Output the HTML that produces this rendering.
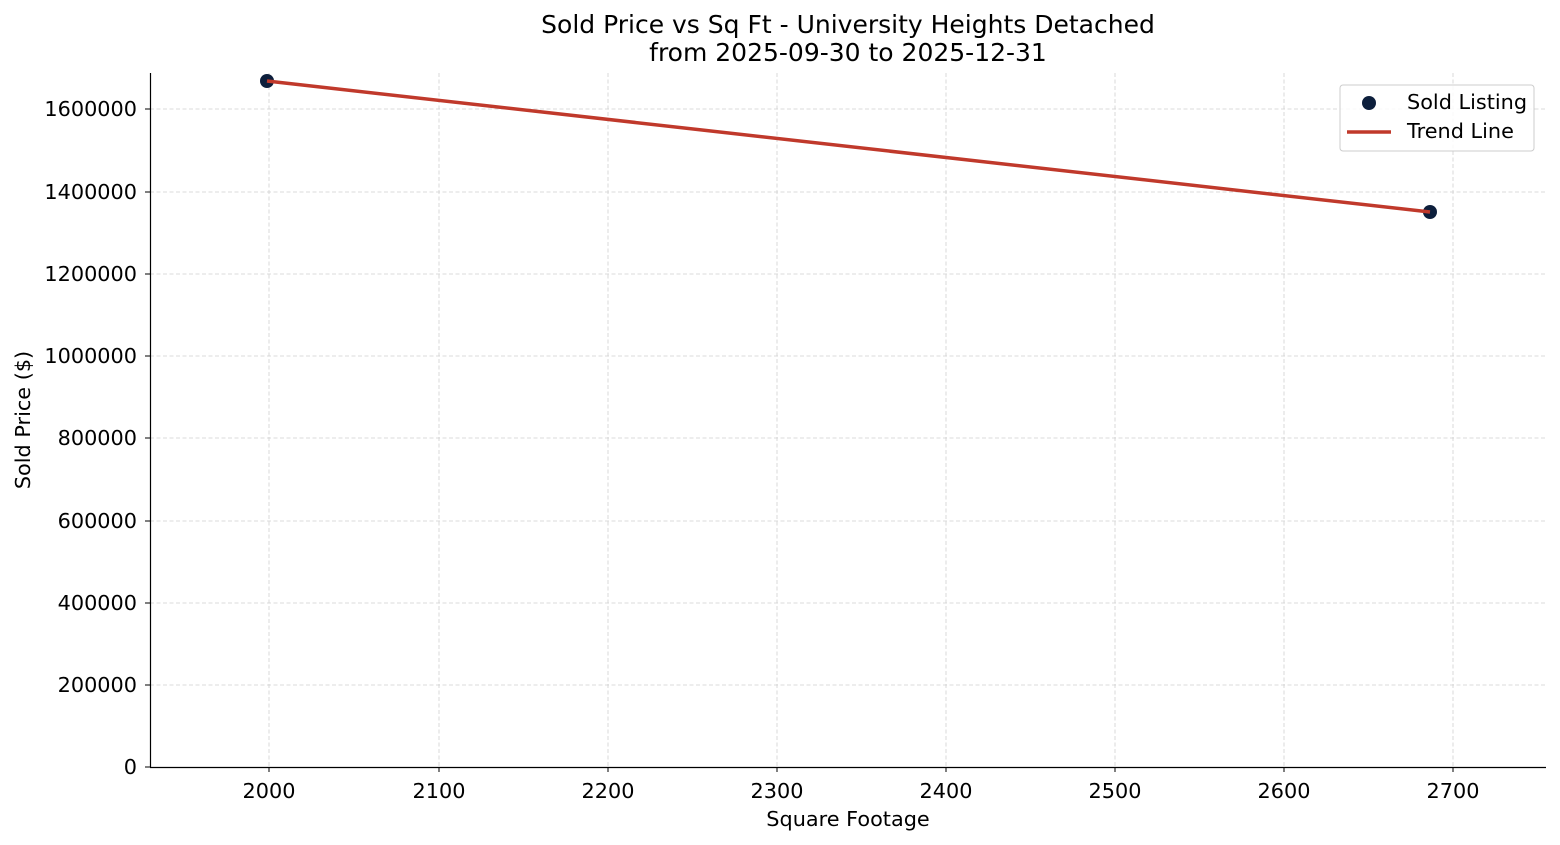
<!DOCTYPE html>
<html><head><meta charset="utf-8"><style>
html,body{margin:0;padding:0;background:#fff;}
svg{display:block;font-family:"DejaVu Sans","Liberation Sans",sans-serif;}
</style></head><body>
<svg width="1560" height="845" viewBox="0 0 1560 845" xmlns="http://www.w3.org/2000/svg">
<rect width="1560" height="845" fill="#fff"/>
<g stroke="#cfcfcf" stroke-width="0.8" stroke-dasharray="4,2.5">
<line x1="269" y1="73" x2="269" y2="767"/>
<line x1="439" y1="73" x2="439" y2="767"/>
<line x1="608" y1="73" x2="608" y2="767"/>
<line x1="777" y1="73" x2="777" y2="767"/>
<line x1="946" y1="73" x2="946" y2="767"/>
<line x1="1115" y1="73" x2="1115" y2="767"/>
<line x1="1284" y1="73" x2="1284" y2="767"/>
<line x1="1453" y1="73" x2="1453" y2="767"/>
<line x1="150" y1="685" x2="1546" y2="685"/>
<line x1="150" y1="603" x2="1546" y2="603"/>
<line x1="150" y1="521" x2="1546" y2="521"/>
<line x1="150" y1="438" x2="1546" y2="438"/>
<line x1="150" y1="356" x2="1546" y2="356"/>
<line x1="150" y1="274" x2="1546" y2="274"/>
<line x1="150" y1="192" x2="1546" y2="192"/>
<line x1="150" y1="109" x2="1546" y2="109"/>
</g>
<g stroke="#000" stroke-width="1.2">
<line x1="150.5" y1="73" x2="150.5" y2="767"/>
<line x1="150" y1="767.5" x2="1546" y2="767.5"/>
</g>
<g stroke="#000" stroke-width="1">
<line x1="269" y1="767" x2="269" y2="772"/><line x1="439" y1="767" x2="439" y2="772"/>
<line x1="608" y1="767" x2="608" y2="772"/><line x1="777" y1="767" x2="777" y2="772"/>
<line x1="946" y1="767" x2="946" y2="772"/><line x1="1115" y1="767" x2="1115" y2="772"/>
<line x1="1284" y1="767" x2="1284" y2="772"/><line x1="1453" y1="767" x2="1453" y2="772"/>
<line x1="145" y1="767" x2="150" y2="767"/><line x1="145" y1="685" x2="150" y2="685"/>
<line x1="145" y1="603" x2="150" y2="603"/><line x1="145" y1="521" x2="150" y2="521"/>
<line x1="145" y1="438" x2="150" y2="438"/><line x1="145" y1="356" x2="150" y2="356"/>
<line x1="145" y1="274" x2="150" y2="274"/><line x1="145" y1="192" x2="150" y2="192"/>
<line x1="145" y1="109" x2="150" y2="109"/>
</g>
<g font-size="20.8" fill="#000" text-anchor="middle">
<text x="269" y="798">2000</text><text x="439" y="798">2100</text><text x="608" y="798">2200</text>
<text x="777" y="798">2300</text><text x="946" y="798">2400</text><text x="1115" y="798">2500</text>
<text x="1284" y="798">2600</text><text x="1453" y="798">2700</text>
</g>
<g font-size="20.8" fill="#000" text-anchor="end">
<text x="137" y="774">0</text><text x="137" y="692">200000</text><text x="137" y="610">400000</text>
<text x="137" y="528">600000</text><text x="137" y="445">800000</text><text x="137" y="363">1000000</text>
<text x="137" y="281">1200000</text><text x="137" y="199">1400000</text><text x="137" y="116">1600000</text>
</g>
<text x="848" y="826" font-size="20.8" text-anchor="middle">Square Footage</text>
<text transform="translate(30,420) rotate(-90)" font-size="20.8" text-anchor="middle">Sold Price ($)</text>
<text x="848" y="33" font-size="25" text-anchor="middle">Sold Price vs Sq Ft - University Heights Detached</text>
<text x="848" y="61" font-size="25" text-anchor="middle">from 2025-09-30 to 2025-12-31</text>
<circle cx="267" cy="81" r="7" fill="#0d1f3c"/>
<circle cx="1430" cy="212" r="7" fill="#0d1f3c"/>
<line x1="267" y1="81" x2="1430" y2="212" stroke="#c0392b" stroke-width="3.5"/>
<rect x="1340" y="85" width="194" height="66" rx="3" fill="#fff" fill-opacity="0.85" stroke="#ccc"/>
<circle cx="1369" cy="103" r="7" fill="#0d1f3c"/>
<line x1="1347" y1="132" x2="1391" y2="132" stroke="#c0392b" stroke-width="3.5"/>
<text x="1407" y="109" font-size="20.8">Sold Listing</text>
<text x="1407" y="138" font-size="20.8">Trend Line</text>
</svg>
</body></html>
